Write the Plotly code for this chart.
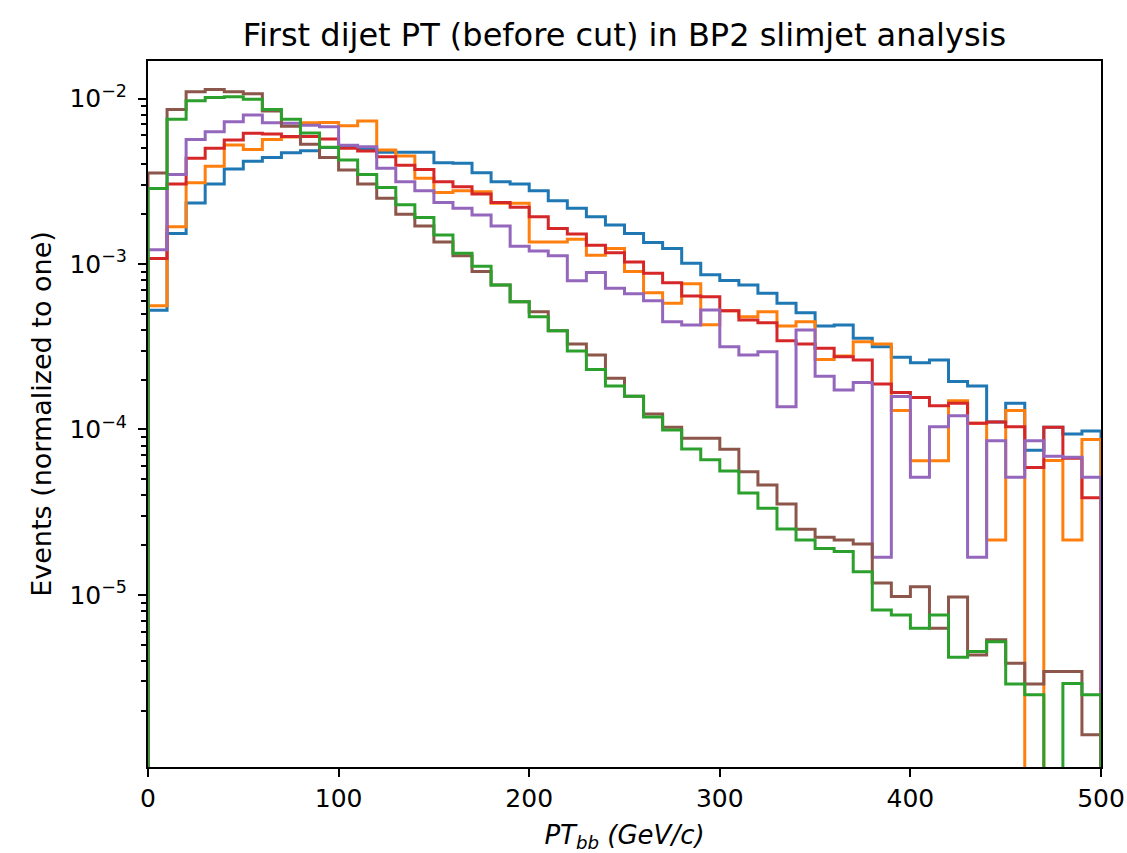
import plotly.graph_objects as go

# Bin edges (GeV/c): 50 bins of width 10 from 0 to 500
bin_edges = list(range(0, 510, 10))

blue = [5.25e-4, 1.53e-3, 2.34e-3, 3.04e-3, 3.75e-3, 4.18e-3, 4.4e-3, 4.7e-3, 4.84e-3, 5.06e-3,
        5.1e-3, 4.95e-3, 4.73e-3, 4.73e-3, 4.73e-3, 4.09e-3, 4.06e-3, 3.56e-3, 3.14e-3, 3.04e-3,
        2.77e-3, 2.41e-3, 2.17e-3, 1.93e-3, 1.72e-3, 1.53e-3, 1.35e-3, 1.24e-3, 1.01e-3, 8.6e-4,
        7.95e-4, 7.46e-4, 6.65e-4, 5.79e-4, 5.08e-4, 4.22e-4, 4.28e-4, 3.56e-4, 3.16e-4, 2.73e-4,
        2.53e-4, 2.63e-4, 1.95e-4, 1.83e-4, 1.11e-4, 1.44e-4, 7.5e-5, 1.03e-4, 9.4e-5, 9.8e-5]

orange = [5.6e-4, 1.68e-3, 3.1e-3, 3.9e-3, 5.24e-3, 4.93e-3, 5.66e-3, 5.85e-3, 7.15e-3, 7.17e-3,
          6.85e-3, 7.32e-3, 4.89e-3, 4.5e-3, 3.3e-3, 2.71e-3, 2.77e-3, 2.73e-3, 2.33e-3, 2.33e-3,
          1.36e-3, 1.36e-3, 1.41e-3, 1.13e-3, 1.24e-3, 9.0e-4, 6.7e-4, 5.8e-4, 7.6e-4, 4.3e-4,
          5.22e-4, 4.8e-4, 5.15e-4, 4.22e-4, 4.48e-4, 2.65e-4, 2.78e-4, 3.39e-4, 3.29e-4, 1.3e-4,
          6.48e-5, 6.48e-5, 1.49e-4, 1.09e-4, 2.15e-5, 1.3e-4, 0.0, 6.5e-5, 2.15e-5, 8.7e-5]

green = [2.86e-3, 7.49e-3, 9.7e-3, 1.016e-2, 1.025e-2, 9.9e-3, 8.6e-3, 7.5e-3, 6.2e-3, 5.07e-3,
         4.25e-3, 3.48e-3, 2.9e-3, 2.28e-3, 1.91e-3, 1.5e-3, 1.16e-3, 9.7e-4, 7.46e-4, 5.92e-4,
         4.8e-4, 3.95e-4, 2.98e-4, 2.3e-4, 1.83e-4, 1.59e-4, 1.19e-4, 9.93e-5, 7.62e-5, 6.55e-5,
         5.61e-5, 4.13e-5, 3.34e-5, 2.5e-5, 2.15e-5, 1.91e-5, 1.83e-5, 1.38e-5, 8.1e-6, 7.57e-6,
         6.3e-6, 7.57e-6, 4.2e-6, 4.55e-6, 5.22e-6, 2.9e-6, 2.49e-6, 0.0, 2.92e-6, 2.49e-6]

red = [1.08e-3, 3.04e-3, 4.35e-3, 5.0e-3, 5.61e-3, 6.16e-3, 6.1e-3, 5.9e-3, 5.9e-3, 5.69e-3,
       5.0e-3, 4.82e-3, 4.45e-3, 3.95e-3, 3.73e-3, 3.14e-3, 2.93e-3, 2.65e-3, 2.35e-3, 2.2e-3,
       1.93e-3, 1.64e-3, 1.52e-3, 1.3e-3, 1.17e-3, 1.03e-3, 8.8e-4, 7.7e-4, 6.4e-4, 6.35e-4,
       5.22e-4, 4.59e-4, 4.42e-4, 3.44e-4, 3.29e-4, 3.1e-4, 2.75e-4, 2.63e-4, 1.88e-4, 1.67e-4,
       1.56e-4, 1.39e-4, 1.44e-4, 1.09e-4, 1.11e-4, 1.04e-4, 5.9e-5, 1.03e-4, 6.7e-5, 3.87e-5]

purple = [1.22e-3, 3.47e-3, 5.66e-3, 6.3e-3, 7.24e-3, 7.95e-3, 7.14e-3, 7.1e-3, 6.9e-3, 6.76e-3,
          5.23e-3, 5.12e-3, 3.79e-3, 3.14e-3, 2.77e-3, 2.35e-3, 2.17e-3, 1.98e-3, 1.7e-3, 1.28e-3,
          1.2e-3, 1.12e-3, 7.93e-4, 8.9e-4, 7.13e-4, 6.6e-4, 6.0e-4, 4.48e-4, 4.28e-4, 5.27e-4,
          3.16e-4, 2.82e-4, 2.95e-4, 1.37e-4, 3.99e-4, 2.1e-4, 1.73e-4, 1.92e-4, 1.69e-5, 1.58e-4,
          5.14e-5, 1.04e-4, 1.21e-4, 1.69e-5, 8.55e-5, 5.14e-5, 8.55e-5, 6.9e-5, 6.8e-5, 5.14e-5]

brown = [3.55e-3, 8.6e-3, 1.1e-2, 1.135e-2, 1.1e-2, 1.07e-2, 8.4e-3, 6.8e-3, 5.3e-3, 4.4e-3,
         3.7e-3, 3.05e-3, 2.5e-3, 2.0e-3, 1.7e-3, 1.36e-3, 1.12e-3, 9.0e-4, 7.46e-4, 5.92e-4,
         5.15e-4, 3.95e-4, 3.29e-4, 2.82e-4, 2.04e-4, 1.59e-4, 1.24e-4, 1.03e-4, 8.85e-5, 8.85e-5,
         7.6e-5, 5.56e-5, 4.62e-5, 3.55e-5, 2.49e-5, 2.23e-5, 2.15e-5, 2.03e-5, 1.18e-5, 9.77e-6,
         1.12e-5, 6.3e-6, 9.7e-6, 4.34e-6, 5.35e-6, 3.87e-6, 2.9e-6, 3.44e-6, 3.44e-6, 1.43e-6]

y_tick_vals = [1e-5, 1e-4, 1e-3, 1e-2]
y_tick_text = ["10<sup>\u22125</sup>", "10<sup>\u22124</sup>", "10<sup>\u22123</sup>", "10<sup>\u22122</sup>"]
x_tick_vals = [0, 100, 200, 300, 400, 500]

series = [
    ("#1f77b4", blue),
    ("#ff7f0e", orange),
    ("#d62728", red),
    ("#9467bd", purple),
    ("#8c564b", brown),
    ("#2ca02c", green),
]

FLOOR = 1e-12  # stands in for empty bins on the log axis (drawn off the bottom)

fig = go.Figure()
for color, vals in series:
    v = [val if val > 0 else FLOOR for val in vals]
    xs = [bin_edges[0]] + bin_edges + [bin_edges[-1]]
    ys = [FLOOR] + v + [v[-1]] + [FLOOR]
    fig.add_trace(go.Scatter(
        x=xs, y=ys, mode="lines",
        line=dict(color=color, width=3, shape="hv"),
        showlegend=False, hoverinfo="skip",
    ))

minor_vals = []
for e in range(-7, -1):
    for m in range(2, 10):
        minor_vals.append(m * 10.0 ** e)

font_family = "DejaVu Sans"

fig.update_layout(
    width=1127, height=853,
    margin=dict(l=148, r=26, t=61, b=86, autoexpand=False),
    paper_bgcolor="white", plot_bgcolor="white",
    title=dict(
        text="First dijet PT (before cut) in BP2 slimjet analysis",
        x=0.5, xref="paper", xanchor="center",
        y=1 - 35 / 853, yref="container", yanchor="middle",
        font=dict(family=font_family, size=32, color="black"),
    ),
    xaxis=dict(
        range=[0, 500], tickmode="array", tickvals=x_tick_vals,
        ticks="outside", ticklen=8, tickwidth=2, tickcolor="black",
        showline=True, linecolor="black", linewidth=2, mirror=True,
        showgrid=False, zeroline=False, automargin=False,
        tickfont=dict(family=font_family, size=25, color="black"),
        title=dict(text="<i>PT<sub>bb</sub> (GeV/c)</i>",
                   font=dict(family=font_family, size=26, color="black"),
                   standoff=14),
    ),
    yaxis=dict(
        type="log", range=[-6.04, -1.773],
        tickmode="array", tickvals=y_tick_vals, ticktext=y_tick_text,
        ticks="outside", ticklen=8, tickwidth=2, tickcolor="black",
        showline=True, linecolor="black", linewidth=2, mirror=True,
        showgrid=False, zeroline=False, automargin=False,
        ticklabelstandoff=6,
        minor=dict(tickmode="array", tickvals=minor_vals, ticks="outside",
                   ticklen=5, tickwidth=1.5, tickcolor="black", showgrid=False),
        tickfont=dict(family=font_family, size=25, color="black"),
        title=dict(text="Events (normalized to one)",
                   font=dict(family=font_family, size=27, color="black"),
                   standoff=10),
    ),
)

fig.write_html("out.html")
